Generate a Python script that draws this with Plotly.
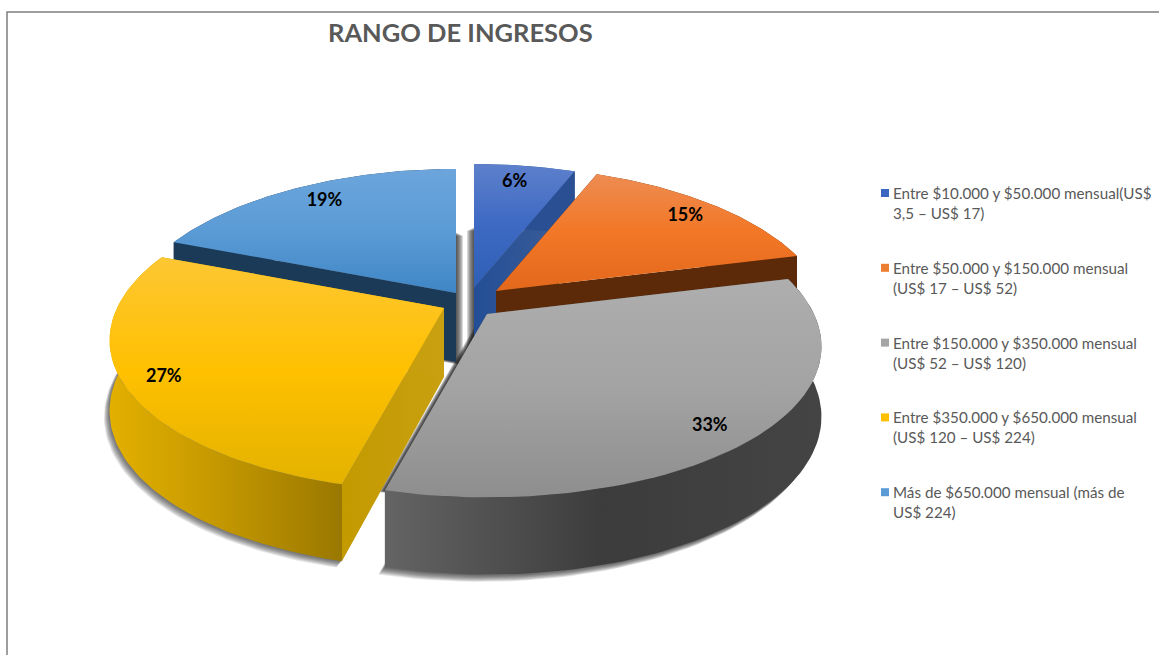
import math
import plotly.graph_objects as go

# ---- data
categories = [
    "Entre $10.000 y $50.000 mensual(US$<br>3,5 – US$ 17)",
    "Entre $50.000 y $150.000 mensual<br>(US$ 17 – US$ 52)",
    "Entre $150.000 y $350.000 mensual<br>(US$ 52 – US$ 120)",
    "Entre $350.000 y $650.000 mensual<br>(US$ 120 – US$ 224)",
    "Más de $650.000 mensual (más de<br>US$ 224)",
]
values = [6, 15, 33, 27, 19]
title_text = "RANGO DE INGRESOS"

# ---- styling
W, H = 1159, 655
A, B, KX, KY, T0 = 327, 148, 0.21, 0.193, 69
apex = [(474, 288), (496, 291), (487, 314), (444, 308), (456, 293)]
label_r = [0.86, 0.86, 0.85, 0.87, 0.84]
label_nudge = [(-3, 0), (4, 0), (-8, 9), (0, 5), (0, -3)]
top_cols = [
    ["#5d80cb", "#3d69c3", "#2f5fb5"],
    ["#ee8c52", "#f27726", "#e3681c"],
    ["#aeaeae", "#a3a3a3", "#8e8e8e"],
    ["#fdc734", "#ffc000", "#e3b200"],
    ["#6ca5dc", "#5b9bd5", "#3f86c6"],
]
wall_cols = [
    ["#2a4f92", "#2a4f92"],
    ["#5c2a08", "#5c2a08"],
    ["#646464", "#3c3c3c", "#444444"],
    ["#e3b000", "#c29600", "#9a7800"],
    ["#1b3a57", "#1b3a57"],
]
face_cols = [
    ["#234e96", "#3f5f98"],
    ["#5c2a08", "#5c2a08"],
    ["#555555", "#555555"],
    ["#c49a00", "#c8a010"],
    ["#1b3a57", "#1b3a57"],
]
swatch_cols = ["#3a66c0", "#ed7d31", "#a5a5a5", "#ffc000", "#5b9bd5"]
draw_order = [0, 4, 1, 3, 2]


def proj(theta, r=1.0):
    s, c = math.sin(theta), math.cos(theta)
    py = 1 / (1 + KY * r * c)
    return A * r * s / (1 + KX * r * c), -B * r * c * py, T0 * (1 + (py - 1) * 0.5)


def arc(t1, t2, n=70):
    return [t1 + (t2 - t1) * i / n for i in range(n + 1)]


def scale(cols):
    n = len(cols) - 1
    return [[i / n, c] for i, c in enumerate(cols)]


fig = go.Figure()


def poly(xs, ys, color=None, grad=None):
    kw = dict(x=xs, y=ys, mode="lines", line=dict(width=0), fill="toself",
              hoverinfo="skip", showlegend=False)
    if grad:
        kw["fillgradient"] = grad
    else:
        kw["fillcolor"] = color
    fig.add_trace(go.Scatter(**kw))


# slice angles from the values
total = sum(values)
edges = [0]
for v in values:
    edges.append(edges[-1] + v / total * 2 * math.pi)


def sector(i, lower):
    ax, ay = apex[i]
    th = arc(edges[i], edges[i + 1])
    xs = [ax] + [ax + proj(t)[0] for t in th] + [ax]
    if lower:
        ys = [ay + T0] + [ay + proj(t)[1] + proj(t)[2] for t in th] + [ay + T0]
    else:
        ys = [ay] + [ay + proj(t)[1] for t in th] + [ay]
    return xs, ys


# soft shadows: (slice, lower sector?, steps of dx, dy, alpha)
shadow_steps = [
    (0, True, [(-k, k * 0.5, 0.17) for k in range(1, 8)]),
    (4, True, [(k, k * 0.5, 0.17) for k in range(1, 8)]),
    (3, True, [(-k * 0.8, k * 0.9, 0.12) for k in range(1, 8)]),
    (2, True, [(-k * 0.8, k * 0.9, 0.12) for k in range(1, 9)]),
    (2, False, [(-k, k * 0.3, 0.25) for k in range(1, 7)]),
]
for i, low, steps in shadow_steps:
    xs, ys = sector(i, low)
    for dx, dy, al in reversed(steps):
        poly([x + dx for x in xs], [y + dy for y in ys], color=f"rgba(30,30,30,{al})")

for i in draw_order:
    ax, ay = apex[i]
    th = arc(edges[i], edges[i + 1])
    tx = [ax + proj(t)[0] for t in th]
    ty = [ay + proj(t)[1] for t in th]
    tb = [ay + proj(t)[1] + proj(t)[2] for t in th]

    # two radial faces
    for j in (0, -1):
        bx, by, bt = tx[j], ty[j], tb[j]
        poly([ax, bx, bx, ax, ax], [ay, by, bt, ay + T0, ay],
             grad=dict(type="horizontal", colorscale=[[0, face_cols[i][0]], [1, face_cols[i][1]]],
                       start=min(ax, bx), stop=max(ax, bx)))
    # outer wall
    poly(tx + tx[::-1], ty + tb[::-1],
         grad=dict(type="horizontal", colorscale=scale(wall_cols[i]),
                   start=min(tx), stop=max(tx)))
    # top surface
    ymin, ymax = min(ty + [ay]), max(ty + [ay])
    poly([ax] + tx + [ax], [ay] + ty + [ay],
         grad=dict(type="vertical", colorscale=scale(top_cols[i]), start=ymin, stop=ymax))

# data labels
lx, ly, lt = [], [], []
for i, v in enumerate(values):
    mid = (edges[i] + edges[i + 1]) / 2
    px, py, _ = proj(mid)
    lx.append(apex[i][0] + px * label_r[i] + label_nudge[i][0])
    ly.append(apex[i][1] + py * label_r[i] + label_nudge[i][1])
    lt.append(f"{v}%")
fig.add_trace(go.Scatter(x=lx, y=ly, text=lt, mode="text", hoverinfo="skip", showlegend=False,
                         textfont=dict(family="Lato", size=18, color="#000000", weight="bold")))

# legend built from the categories
leg_x, leg_y0, leg_dy = 885, 193, 74.8
fig.add_trace(go.Scatter(
    x=[leg_x] * len(categories), y=[leg_y0 + leg_dy * i for i in range(len(categories))],
    mode="markers", hoverinfo="skip", showlegend=False,
    marker=dict(symbol="square", size=8, color=swatch_cols, line=dict(width=0))))
annotations = [
    dict(x=leg_x + 7, y=leg_y0 - 10 + leg_dy * i, text=c, xref="x", yref="y", xanchor="left", yanchor="top",
         align="left", showarrow=False, borderpad=0, font=dict(family="Lato", size=15.2, color="#595959"))
    for i, c in enumerate(categories)
]
annotations.append(dict(x=460, y=32, text=f"<b>{title_text}</b>", xref="x", yref="y", xanchor="center",
                        yanchor="middle", showarrow=False,
                        font=dict(family="Lato", size=25.5, color="#595959")))

fig.update_layout(
    width=W, height=H, margin=dict(l=0, r=0, t=0, b=0), autosize=False,
    paper_bgcolor="#ffffff", plot_bgcolor="#ffffff", showlegend=False,
    xaxis=dict(range=[0, W], visible=False, fixedrange=True),
    yaxis=dict(range=[H, 0], visible=False, fixedrange=True),
    annotations=annotations,
    shapes=[dict(type="rect", xref="x", yref="y", x0=7, y0=12, x1=W + 20, y1=H + 20,
                 line=dict(color="#7f7f7f", width=1.5), layer="below")],
)
fig.write_html("out.html", post_script="document.body.style.margin='0';document.body.style.overflow='hidden';",
               config=dict(displayModeBar=False))
